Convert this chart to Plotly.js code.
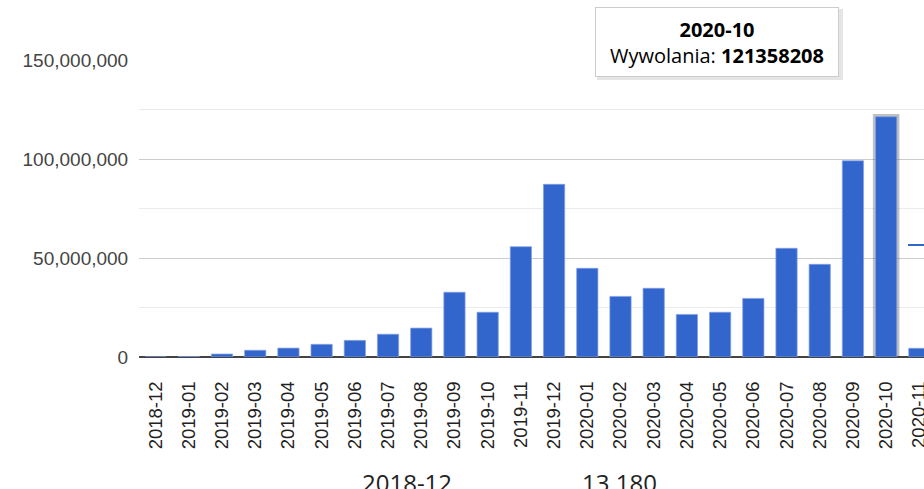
<!DOCTYPE html>
<html>
<head>
<meta charset="utf-8">
<script src="https://cdn.plot.ly/plotly-3.0.1.min.js"></script>
<style>
html,body{margin:0;padding:0;background:#fff;}
#chart{width:924px;height:489px;}
</style>
</head>
<body>
<div id="chart"></div>
<script>
// ---- data ----
const months = ["2018-12","2019-01","2019-02","2019-03","2019-04","2019-05","2019-06","2019-07","2019-08","2019-09","2019-10","2019-11","2019-12","2020-01","2020-02","2020-03","2020-04","2020-05","2020-06","2020-07","2020-08","2020-09","2020-10","2020-11"];
const calls = [13180,150000,1500000,3400000,4500000,6400000,8400000,11500000,14600000,32700000,22600000,55700000,87200000,44800000,30600000,34700000,21500000,22600000,29600000,54900000,46800000,99100000,121358208,4400000];
const seriesName = "Wywolania";
const hoverIndex = 22;
const yTicks = [0,50000000,100000000,150000000];

// ---- derived ----
const fmtSpace = v => String(v).replace(/\B(?=(\d{3})+(?!\d))/g, " ");
const hiMonth = months[hoverIndex];
const hiVal = calls[hoverIndex];

const traces = [
  { // hover highlight ring behind the selected bar
    type: "bar", x: [hiMonth], y: [hiVal + 1.4e6], width: 0.8,
    marker: {color: "rgba(60,60,60,0.32)"}, hoverinfo: "skip", showlegend: false
  },
  {
    type: "bar", name: seriesName, x: months, y: calls, width: 0.64,
    marker: {color: "#3366cc", line: {width: 0.8, color: "rgba(130,160,230,0.9)"}},
    showlegend: false
  }
];

const layout = {
  width: 924, height: 489,
  margin: {l: 139, r: 0, t: 60, b: 132, pad: 0},
  paper_bgcolor: "#fff", plot_bgcolor: "#fff",
  barmode: "overlay",
  showlegend: false,
  font: {family: "Liberation Sans, Arial, sans-serif", color: "#444"},
  xaxis: {
    type: "category",
    categoryorder: "array", categoryarray: months,
    range: [-0.5, 23.14],
    tickangle: -90,
    ticks: "outside", ticklen: 16, tickcolor: "rgba(0,0,0,0)",
    tickfont: {size: 18.5, color: "#222", family: "Liberation Sans, Arial, sans-serif"},
    showgrid: false, showline: false, zeroline: false,
    fixedrange: true
  },
  yaxis: {
    range: [0, 150000000],
    tickvals: yTicks,
    tickformat: ",d",
    ticks: "outside", ticklen: 6, tickcolor: "rgba(0,0,0,0)",
    tickfont: {size: 19, color: "#444"},
    showgrid: true, gridcolor: "#cccccc", gridwidth: 1,
    minor: {dtick: 25000000, tick0: 0, showgrid: true, gridcolor: "#ebebeb", gridwidth: 1, ticks: ""},
    zeroline: true, zerolinecolor: "#444", zerolinewidth: 2,
    showline: false, fixedrange: true
  },
  shapes: [
    // tooltip shadow
    {type: "rect", xref: "paper", yref: "paper",
     x0: (597-139)/785, x1: (843-139)/785, y0: (357-80)/297, y1: (357-9)/297,
     fillcolor: "rgba(0,0,0,0.10)", line: {width: 0}, layer: "above"},
    // cut-off legend glyph
    {type: "line", xref: "paper", yref: "paper",
     x0: (908-139)/785, x1: 1.0, y0: (357-245)/297, y1: (357-245)/297,
     line: {color: "#3366cc", width: 2}, layer: "above"}
  ],
  annotations: [
    { // tooltip
      xref: "paper", yref: "paper",
      x: (717-139)/785, y: (357-42)/297, xanchor: "center", yanchor: "middle",
      text: "<b>" + hiMonth + "</b><br>" + seriesName + ": <b>" + hiVal + "</b>",
      showarrow: false, align: "center", valign: "middle",
      width: 240, height: 66,
      bgcolor: "#ffffff", bordercolor: "#cccccc", borderwidth: 1, borderpad: 1,
      font: {family: "Open Sans, sans-serif", size: 20, color: "#000"}
    },
    { // table below (cut off)
      xref: "paper", yref: "paper",
      x: (360-139)/785, y: (357-464)/297, xanchor: "left", yanchor: "top",
      text: months[0], showarrow: false,
      font: {family: "Open Sans, sans-serif", size: 24, color: "#222"}
    },
    {
      xref: "paper", yref: "paper",
      x: (580-139)/785, y: (357-464)/297, xanchor: "left", yanchor: "top",
      text: fmtSpace(calls[0]), showarrow: false,
      font: {family: "Open Sans, sans-serif", size: 24, color: "#222"}
    }
  ]
};

Plotly.newPlot("chart", traces, layout, {displayModeBar: false, staticPlot: true});
</script>
</body>
</html>
